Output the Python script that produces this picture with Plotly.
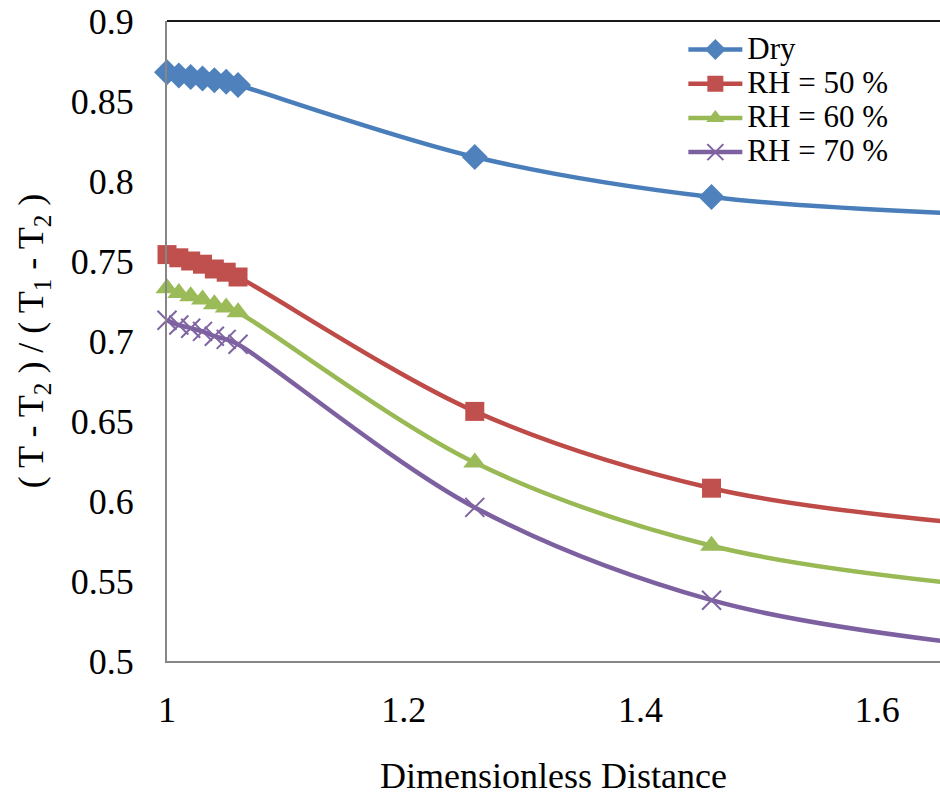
import plotly.graph_objects as go

# Dimensionless distance along the channel
distance = [1.00, 1.01, 1.02, 1.03, 1.04, 1.05, 1.06, 1.26, 1.46, 1.66]

# Dimensionless temperature (T - T2) / (T1 - T2) for each condition
dry = [0.868, 0.866, 0.865, 0.864, 0.863, 0.862, 0.860, 0.815, 0.790, 0.780]
rh50 = [0.754, 0.752, 0.750, 0.748, 0.745, 0.743, 0.740, 0.656, 0.608, 0.587]
rh60 = [0.733, 0.730, 0.728, 0.726, 0.723, 0.721, 0.718, 0.624, 0.572, 0.549]
rh70 = [0.713, 0.710, 0.708, 0.706, 0.703, 0.701, 0.698, 0.596, 0.538, 0.512]

series_names = ["Dry", "RH = 50 %", "RH = 60 %", "RH = 70 %"]

x_tickvals = [1.0, 1.2, 1.4, 1.6]
x_ticktext = ["1", "1.2", "1.4", "1.6"]
y_tickvals = [0.5, 0.55, 0.6, 0.65, 0.7, 0.75, 0.8, 0.85, 0.9]
y_ticktext = ["0.5", "0.55", "0.6", "0.65", "0.7", "0.75", "0.8", "0.85", "0.9"]

FONT = "Times New Roman, Liberation Serif, DejaVu Serif, serif"

styles = [
    dict(color="#4A7EBB", marker=dict(symbol="diamond", size=20, color="#4F81BD")),
    dict(color="#BE4B48", marker=dict(symbol="square", size=19, color="#C0504D")),
    dict(color="#98B954", marker=dict(symbol="triangle-up", size=20, color="#9BBB59")),
    dict(color="#7D60A0", marker=dict(symbol="x-thin-open", size=19,
                                      color="#8064A2", line=dict(width=2, color="#8064A2"))),
]

fig = go.Figure()
for name, values, st in zip(series_names, [dry, rh50, rh60, rh70], styles):
    fig.add_trace(go.Scatter(
        x=distance, y=values,
        # legend rows are spaced from the legend font size; the label itself is drawn larger
        name=f'<span style="font-size:31px">{name}</span>',
        mode="lines+markers",
        line=dict(color=st["color"], width=4.5, shape="spline", smoothing=1.0),
        marker=st["marker"],
        cliponaxis=False,
    ))

fig.update_layout(
    width=940, height=797,
    margin=dict(l=167, r=0, t=21, b=136),
    paper_bgcolor="white", plot_bgcolor="white",
    font=dict(family=FONT, size=36, color="black"),
    showlegend=True,
    legend=dict(
        x=0.668, y=0.99, xanchor="left", yanchor="top",
        font=dict(family=FONT, size=24, color="black"),
        bgcolor="rgba(0,0,0,0)", borderwidth=0,
        tracegroupgap=0, itemwidth=54,
    ),
    xaxis=dict(
        range=[1.0, 1.653],
        tickvals=x_tickvals, ticktext=x_ticktext,
        showgrid=False, zeroline=False,
        showline=True, linecolor="#868686", linewidth=2,
        ticks="", ticklabelstandoff=16,
        tickfont=dict(family=FONT, size=36, color="black"),
        title=dict(text="Dimensionless Distance", standoff=34,
                   font=dict(family=FONT, size=36, color="black")),
    ),
    yaxis=dict(
        range=[0.5, 0.9],
        tickvals=y_tickvals, ticktext=y_ticktext,
        showgrid=False, zeroline=False,
        showline=True, linecolor="#868686", linewidth=2,
        ticks="", ticklabelstandoff=24,
        tickfont=dict(family=FONT, size=36, color="black"),
        title=dict(text="( T - T<sub>2</sub> ) / ( T<sub>1</sub> - T<sub>2</sub> )",
                   standoff=16,
                   font=dict(family=FONT, size=36, color="black")),
    ),
)

# Dark border along the top edge of the plotting area
fig.add_shape(type="line", xref="paper", yref="paper",
              x0=0, x1=1, y0=1, y1=1,
              line=dict(color="#1a1a1a", width=2))

fig.write_html("out.html")
